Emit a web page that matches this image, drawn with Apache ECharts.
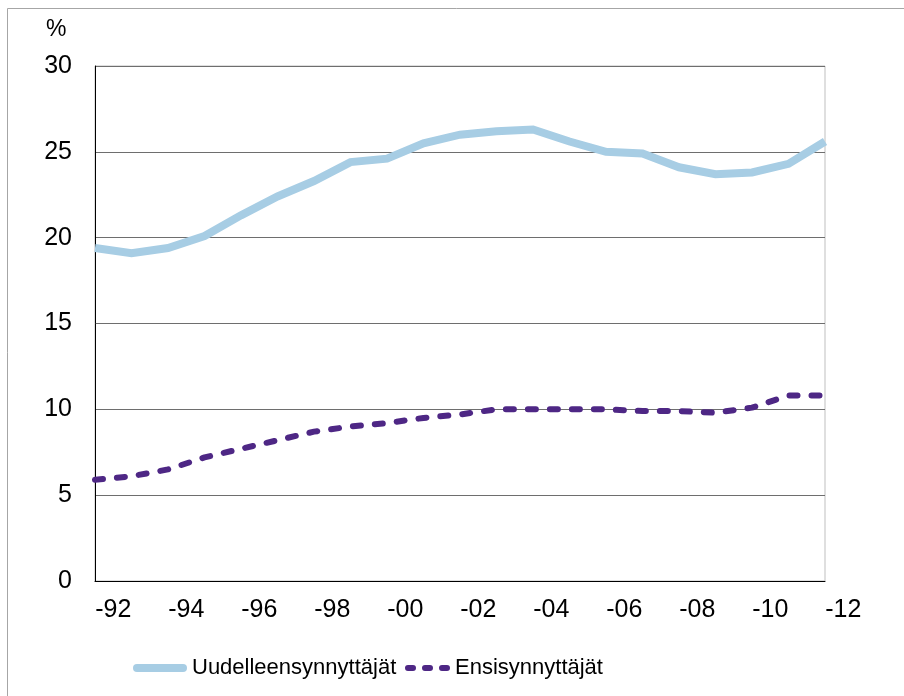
<!DOCTYPE html>
<html>
<head>
<meta charset="utf-8">
<script src="https://cdn.jsdelivr.net/npm/echarts@6/dist/echarts.min.js"></script>
<style>
  html, body { margin: 0; padding: 0; background: #fff; }
  #chart { width: 904px; height: 696px; }
</style>
</head>
<body>
<div id="chart"></div>
<script>
// Years on the x axis
const years = [1992, 1993, 1994, 1995, 1996, 1997, 1998, 1999, 2000, 2001, 2002,
               2003, 2004, 2005, 2006, 2007, 2008, 2009, 2010, 2011, 2012];

// Share (%) per year
const uudelleensynnyttajat = [19.4, 19.1, 19.4, 20.1, 21.3, 22.4, 23.3, 24.4, 24.6, 25.5, 26.0,
                              26.2, 26.3, 25.6, 25.0, 24.9, 24.1, 23.7, 23.8, 24.3, 25.6];
const ensisynnyttajat = [5.9, 6.1, 6.5, 7.2, 7.7, 8.2, 8.7, 9.0, 9.2, 9.5, 9.7,
                         10.0, 10.0, 10.0, 10.0, 9.9, 9.9, 9.8, 10.1, 10.8, 10.8];

const seriesNames = ['Uudelleensynnyttäjät', 'Ensisynnyttäjät'];
const yTicks = { min: 0, max: 30, interval: 5 };

const BLUE = '#a7cde4';
const PURPLE = '#4e2785';

const chart = echarts.init(document.getElementById('chart'), null, { renderer: 'canvas' });
const baseFont = "'Liberation Sans', Arial, sans-serif";

// Legend glyphs: a solid rounded bar and three rounded dashes
const solidIcon = 'path://M4,0H50A4,4 0 0 1 50,8H4A4,4 0 0 1 4,0Z';
const dashIcon = 'path://M3,0H8A3,3 0 0 1 8,6H3A3,3 0 0 1 3,0Z' +
                 'M20,0H25A3,3 0 0 1 25,6H20A3,3 0 0 1 20,0Z' +
                 'M37,0H42A3,3 0 0 1 42,6H37A3,3 0 0 1 37,0Z';

const legendText = { fontFamily: baseFont, fontSize: 22, color: '#000' };

chart.setOption({
  animation: false,
  backgroundColor: '#ffffff',
  graphic: [{
    type: 'rect',
    shape: { x: 7.5, y: 8.5, width: 910, height: 700 },
    style: { fill: 'none', stroke: '#a6a6a6', lineWidth: 1 },
    z: -1
  }, {
    type: 'text',
    left: 46, top: 18,
    style: { text: '%', fontSize: 23, fontFamily: baseFont, fill: '#000' }
  }],
  grid: {
    left: 95, right: 79, top: 66, bottom: 115,
    show: true, borderColor: '#bfbfbf', borderWidth: 1
  },
  legend: [{
    left: 128, top: 652,
    itemWidth: 54, itemHeight: 8, itemGap: 0,
    textStyle: legendText,
    data: [{ name: seriesNames[0], icon: solidIcon }]
  }, {
    left: 400, top: 652,
    itemWidth: 45, itemHeight: 6, itemGap: 0,
    textStyle: legendText,
    data: [{ name: seriesNames[1], icon: dashIcon }]
  }],
  xAxis: {
    type: 'category',
    boundaryGap: false,
    data: years,
    axisLine: { lineStyle: { color: '#000', width: 1 } },
    axisTick: { show: false },
    axisLabel: {
      interval: 1,
      margin: 17,
      padding: [0, 0, 0, 36.5],
      fontFamily: baseFont, fontSize: 25, color: '#000',
      formatter: v => '-' + String(v).slice(2)
    },
    splitLine: { show: false }
  },
  yAxis: {
    type: 'value',
    min: yTicks.min, max: yTicks.max, interval: yTicks.interval,
    axisLine: { show: true, lineStyle: { color: '#000', width: 1 } },
    axisTick: { show: false },
    axisLabel: { margin: 23, fontFamily: baseFont, fontSize: 25, color: '#000' },
    splitLine: { lineStyle: { color: '#6e6e6e', width: 1 } }
  },
  series: [{
    name: seriesNames[0],
    type: 'line',
    data: uudelleensynnyttajat,
    symbol: 'none',
    lineStyle: { color: BLUE, width: 8, cap: 'butt', join: 'miter' },
    itemStyle: { color: BLUE }
  }, {
    name: seriesNames[1],
    type: 'line',
    data: ensisynnyttajat,
    symbol: 'none',
    lineStyle: { color: PURPLE, width: 6, type: [8, 14], cap: 'round', join: 'round' },
    itemStyle: { color: PURPLE }
  }]
});
</script>
</body>
</html>
